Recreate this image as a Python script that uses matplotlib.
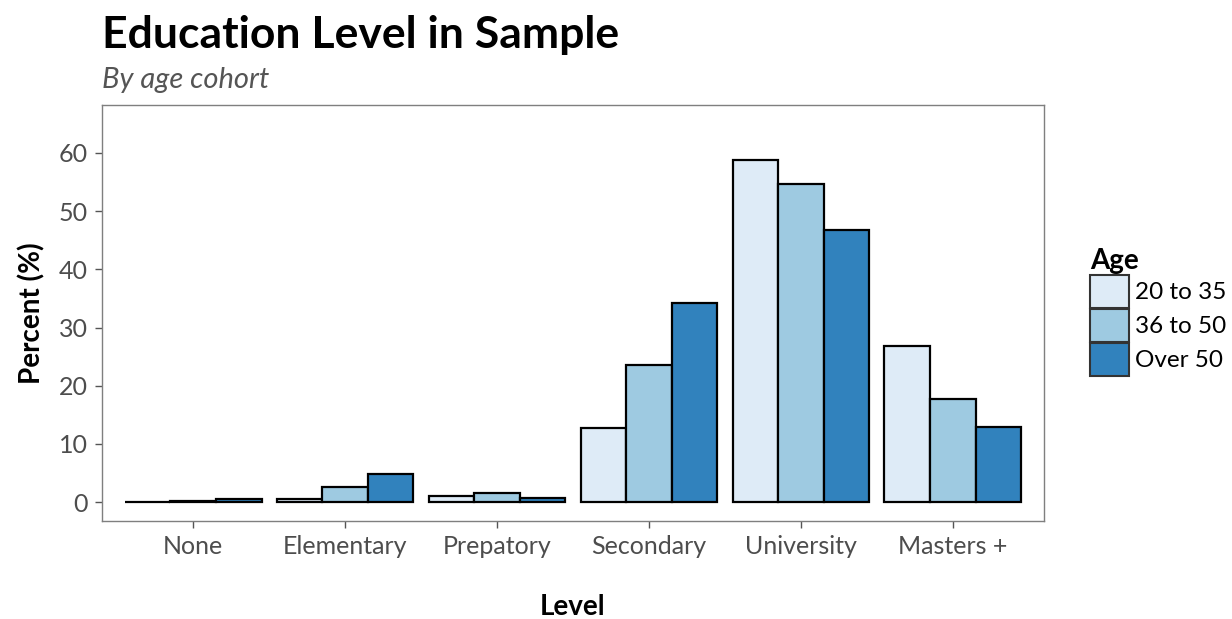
import matplotlib.pyplot as plt
import numpy as np
from matplotlib.patches import Patch

plt.rcParams['font.family'] = ['Lato', 'DejaVu Sans']

# Data
levels = ['None', 'Elementary', 'Prepatory', 'Secondary', 'University', 'Masters +']
ages = ['20 to 35', '36 to 50', 'Over 50']
pct_20_35 = [0.05, 0.5, 1.0, 12.7, 58.8, 26.9]
pct_36_50 = [0.2, 2.6, 1.5, 23.5, 54.7, 17.7]
pct_over_50 = [0.5, 4.8, 0.7, 34.3, 46.8, 12.9]
colors = ['#DEEBF7', '#9ECAE1', '#3182BD']

fig = plt.figure(figsize=(12.32, 6.19), dpi=100)
ax = fig.add_axes([102 / 1232, 1 - 521 / 619, 942 / 1232, 416 / 619])

x = np.arange(1, len(levels) + 1)
w = 0.3
for i, (vals, col, lab) in enumerate(zip([pct_20_35, pct_36_50, pct_over_50], colors, ages)):
    ax.bar(x + (i - 1) * w, vals, width=w, color=col, edgecolor='black',
           linewidth=1.6, label=lab)

ax.set_xlim(0.4, 6.6)
ax.set_ylim(-3.25, 68.25)
ax.set_yticks([0, 10, 20, 30, 40, 50, 60])
ax.set_xticks(x)
ax.set_xticklabels(levels)
ax.tick_params(axis='both', colors='#555555', labelcolor='#4d4d4d', labelsize=18,
               length=5, width=1, pad=5)
for s in ax.spines.values():
    s.set_color('#7f7f7f')
    s.set_linewidth(1)

ax.set_xlabel('Level', fontsize=20, fontweight='bold', labelpad=26)
ax.set_ylabel('Percent (%)', fontsize=20, fontweight='bold', labelpad=10)

fig.text(102 / 1232, 1 - 35 / 619, 'Education Level in Sample', fontsize=32,
         fontweight='bold', va='center', ha='left')
fig.text(102 / 1232, 1 - 80 / 619, 'By age cohort', fontsize=21, style='italic',
         color='#555555', va='center', ha='left')

handles = [Patch(facecolor=c, edgecolor='#333333', linewidth=1.5) for c in colors]
leg = fig.legend(handles, ages, title='Age', loc='upper left',
                 bbox_to_anchor=(1080 / 1232, 1 - 238 / 619), frameon=False,
                 fontsize=17.5, handlelength=1.6, handleheight=1.7,
                 handletextpad=0.25, labelspacing=0.05, borderaxespad=0)
leg.get_title().set_fontweight('bold')
leg.get_title().set_fontsize(20)
leg._legend_box.align = 'left'

fig.savefig('out.png', dpi=100)
